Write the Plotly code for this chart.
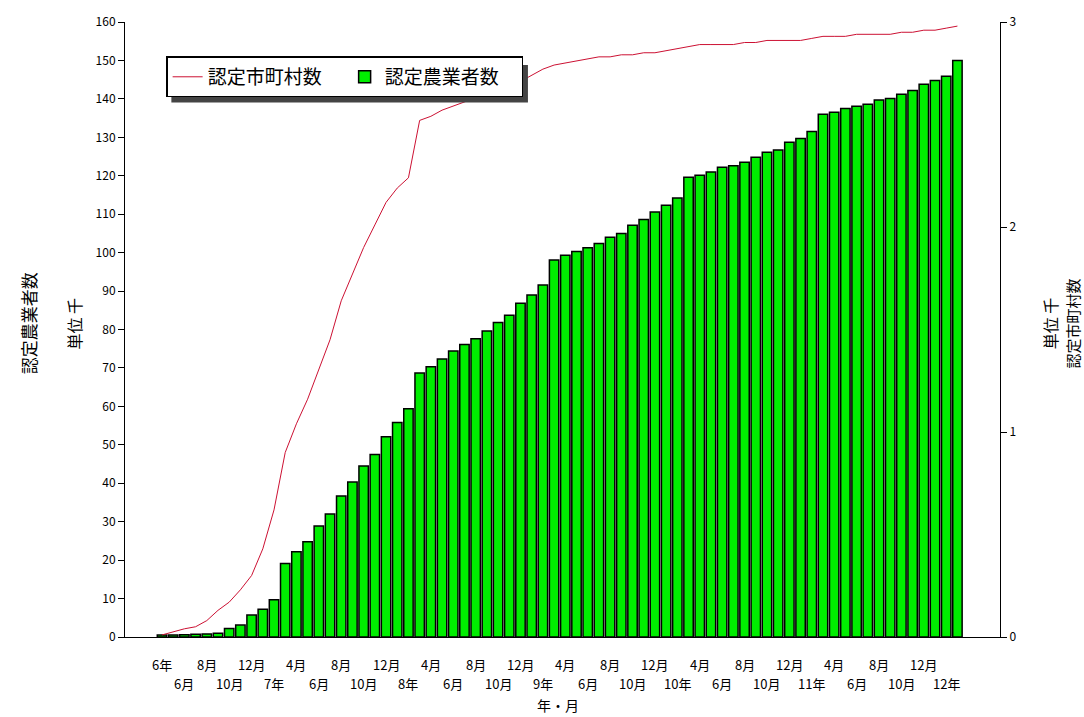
import plotly.graph_objects as go

# Categories: monthly, from 平成6年4月 to 平成12年3月
months = []
for yr in range(6, 13):
    for mo in range(1, 13):
        if (yr == 6 and mo < 4) or (yr == 12 and mo > 3):
            continue
        months.append(f"{yr}年{mo}月")

# 認定農業者数 (left axis, 単位 千)
farmers = [
    0.5, 0.5, 0.6, 0.7, 0.8, 1.0, 2.2, 3.1, 5.7, 7.2, 9.7, 19.1,
    22.2, 24.8, 28.9, 32.0, 36.7, 40.3, 44.5, 47.5, 52.1, 55.8, 59.4, 68.7,
    70.3, 72.3, 74.4, 76.1, 77.6, 79.6, 81.8, 83.7, 86.8, 89.0, 91.6, 98.1,
    99.3, 100.3, 101.3, 102.4, 104.0, 105.0, 107.1, 108.6, 110.6, 112.3, 114.2, 119.6,
    120.1, 121.0, 122.2, 122.6, 123.5, 124.8, 126.1, 126.7, 128.7, 129.7, 131.5, 136.0,
    136.5, 137.5, 138.1, 138.6, 139.7, 140.1, 141.2, 142.2, 143.8, 144.8, 145.9, 150.0,
]

# 認定市町村数 (right axis, 単位 千)
municipalities = [
    0.01, 0.025, 0.04, 0.05, 0.08, 0.13, 0.17, 0.23, 0.30, 0.43, 0.62, 0.90,
    1.04, 1.16, 1.31, 1.45, 1.64, 1.77, 1.90, 2.01, 2.12, 2.19, 2.24, 2.52,
    2.54, 2.57, 2.59, 2.61, 2.63, 2.64, 2.66, 2.68, 2.71, 2.74, 2.77, 2.79,
    2.80, 2.81, 2.82, 2.83, 2.83, 2.84, 2.84, 2.85, 2.85, 2.86, 2.87, 2.88,
    2.89, 2.89, 2.89, 2.89, 2.90, 2.90, 2.91, 2.91, 2.91, 2.91, 2.92, 2.93,
    2.93, 2.93, 2.94, 2.94, 2.94, 2.94, 2.95, 2.95, 2.96, 2.96, 2.97, 2.98,
]

# x tick labels, one every two months (alternating rows)
tick_labels = [
    "6年", "6月", "8月", "10月", "12月", "7年",
    "4月", "6月", "8月", "10月", "12月", "8年",
    "4月", "6月", "8月", "10月", "12月", "9年",
    "4月", "6月", "8月", "10月", "12月", "10年",
    "4月", "6月", "8月", "10月", "12月", "11年",
    "4月", "6月", "8月", "10月", "12月", "12年",
]
tick_months = months[::2]

FONT = "Noto Sans CJK JP"

fig = go.Figure()
fig.add_trace(go.Scatter(
    x=months, y=municipalities, name="認定市町村数", mode="lines",
    line=dict(color="#cc1133", width=1), yaxis="y2",
))
fig.add_trace(go.Bar(
    x=months, y=farmers, name="認定農業者数",
    marker=dict(color="#00ee00", line=dict(color="#000000", width=1.5)),
    width=0.84,
))

annotations = []
for i, (m, lab) in enumerate(zip(tick_months, tick_labels)):
    annotations.append(dict(
        x=m, xref="x", y=0, yref="paper", text=lab, showarrow=False,
        xanchor="center", yanchor="top", yshift=-16 if i % 2 == 0 else -35,
        font=dict(family=FONT, size=13, color="#000"),
    ))
annotations += [
    dict(x=0.5, xref="paper", y=0, yref="paper", text="年・月", showarrow=False,
         xanchor="center", yanchor="top", yshift=-56, xshift=-5,
         font=dict(family=FONT, size=14, color="#000")),
    dict(x=-0.111, xref="paper", y=0.51, yref="paper", text="認定農業者数",
         textangle=-90, showarrow=False, xanchor="center", yanchor="middle",
         font=dict(family=FONT, size=17, color="#000")),
    dict(x=-0.058, xref="paper", y=0.51, yref="paper", text="単位 千",
         textangle=-90, showarrow=False, xanchor="center", yanchor="middle",
         font=dict(family=FONT, size=16, color="#000")),
    dict(x=1.0571, xref="paper", y=0.51, yref="paper", text="単位 千",
         textangle=-90, showarrow=False, xanchor="center", yanchor="middle",
         font=dict(family=FONT, size=16, color="#000")),
    dict(x=1.0825, xref="paper", y=0.51, yref="paper", text="認定市町村数",
         textangle=-90, showarrow=False, xanchor="center", yanchor="middle",
         font=dict(family=FONT, size=15, color="#000")),
]

fig.update_layout(
    width=1084, height=717,
    margin=dict(l=125, r=84, t=18, b=80),
    paper_bgcolor="white", plot_bgcolor="white",
    font=dict(family=FONT, size=12, color="#000"),
    showlegend=True,
    legend=dict(
        orientation="h", x=0.047, y=0.944, xanchor="left", yanchor="top",
        bgcolor="white", bordercolor="#000", borderwidth=1.5,
        font=dict(family=FONT, size=19, color="#000"),
        itemwidth=30, traceorder="normal",
        entrywidth=132, entrywidthmode="pixels",
    ),
    xaxis=dict(
        type="category", range=[-3.3, 74.8], showline=True, linecolor="#000",
        linewidth=1, showticklabels=False, ticks="", showgrid=False, zeroline=False,
    ),
    yaxis=dict(
        range=[0, 160], dtick=10, ticks="outside", ticklen=6, tickcolor="#000",
        showline=True, linecolor="#000", linewidth=1, showgrid=False, zeroline=False,
        tickfont=dict(family=FONT, size=12),
    ),
    yaxis2=dict(
        range=[0, 3], dtick=1, overlaying="y", side="right", ticks="outside",
        ticklen=6, tickcolor="#000", showline=True, linecolor="#000", linewidth=1,
        showgrid=False, zeroline=False, tickfont=dict(family=FONT, size=12),
    ),
    annotations=annotations,
    shapes=[dict(type="rect", xref="paper", yref="paper",
                 x0=0.053, x1=0.4605, y0=0.869, y1=0.93,
                 fillcolor="#444", line=dict(width=0), layer="above")],
)

fig.write_html("out.html", config={"displayModeBar": False},
               post_script="document.body.style.margin='0';")
